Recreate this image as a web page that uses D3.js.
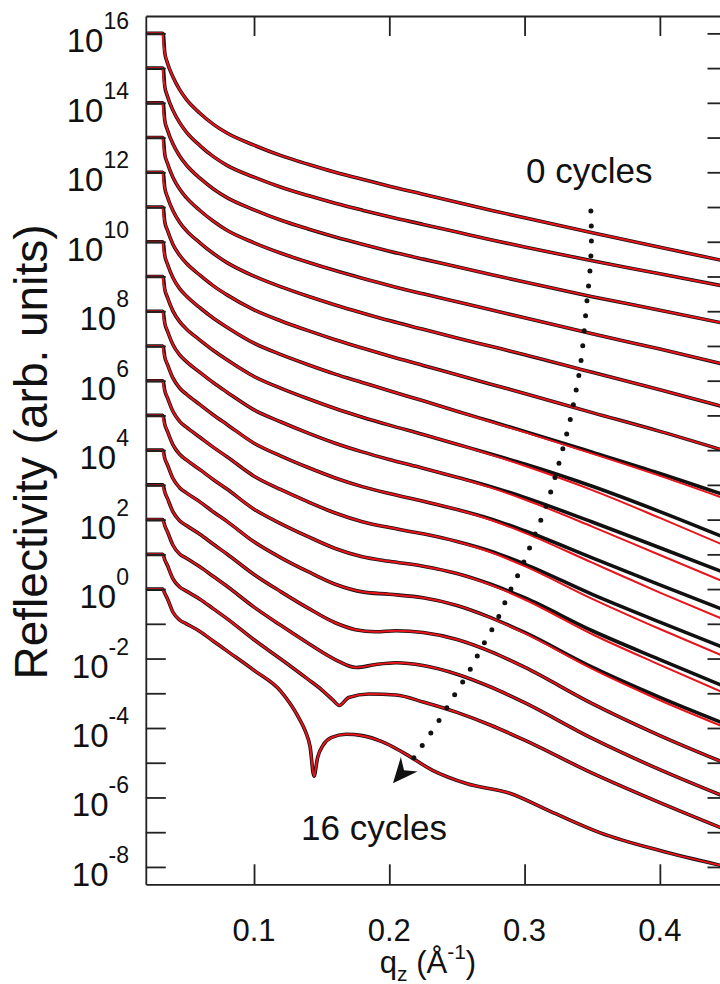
<!DOCTYPE html>
<html><head><meta charset="utf-8">
<script src="https://cdn.jsdelivr.net/npm/d3@7"></script>
<style>
body{margin:0;background:#fff;}
svg{display:block;font-family:"Liberation Sans",Arial,Helvetica,sans-serif;}
</style>
</head><body>
<svg id="chart" width="720" height="984"></svg>
<script>
// ---------------- data ----------------
const cycles = [0,1,2,3,4,5,6,7,8,9,10,11,12,13,14,15,16];
// vertical offset (decades) of each curve for clarity
const offsets = [16,15,14,13,12,11,10,9,8,7,6,5,4,3,2,1,0];
const xTicks = [0.1,0.2,0.3,0.4];
const yDecades = [-8,-7,-6,-5,-4,-3,-2,-1,0,1,2,3,4,5,6,7,8,9,10,11,12,13,14,15,16];
const yLabelled = [-8,-6,-4,-2,0,2,4,6,8,10,12,14,16];

// common q grid (1/Å) of the fits for curves 0..12
const qGrid = [0.020,0.0325,0.033,0.034,0.036,0.040,0.045,0.050,0.060,0.070,0.080,0.100,0.120,0.140,0.160,0.180,0.200,0.225,0.250,0.275,0.300,0.350,0.400,0.450];
// log10 R of the fits (before offset)
const fit0  = [0,0,-0.30,-0.55,-0.85,-1.25,-1.62,-1.90,-2.30,-2.62,-2.87,-3.22,-3.52,-3.77,-4.00,-4.20,-4.40,-4.63,-4.86,-5.09,-5.31,-5.74,-6.16,-6.57];
const fit1  = [0,0,-0.28,-0.52,-0.81,-1.21,-1.57,-1.84,-2.23,-2.55,-2.80,-3.14,-3.43,-3.67,-3.89,-4.09,-4.28,-4.50,-4.72,-4.94,-5.15,-5.55,-5.92,-6.30];
const fit2  = [0,0,-0.27,-0.50,-0.78,-1.18,-1.53,-1.79,-2.17,-2.48,-2.73,-3.08,-3.38,-3.63,-3.86,-4.07,-4.27,-4.50,-4.72,-4.94,-5.16,-5.58,-5.97,-6.37];
const fit3  = [0,0,-0.25,-0.47,-0.74,-1.14,-1.48,-1.73,-2.10,-2.41,-2.67,-3.03,-3.33,-3.59,-3.83,-4.05,-4.26,-4.50,-4.73,-4.96,-5.19,-5.65,-6.09,-6.55];
const fit4  = [0,0,-0.24,-0.44,-0.71,-1.10,-1.44,-1.68,-2.03,-2.34,-2.60,-2.99,-3.30,-3.57,-3.82,-4.05,-4.27,-4.52,-4.77,-5.01,-5.25,-5.76,-6.26,-6.78];
const fit5  = [0,0,-0.22,-0.42,-0.67,-1.07,-1.39,-1.62,-1.96,-2.27,-2.53,-2.96,-3.28,-3.56,-3.82,-4.06,-4.29,-4.56,-4.83,-5.10,-5.37,-5.92,-6.46,-7.04];
const fit6  = [0,0,-0.21,-0.39,-0.64,-1.03,-1.35,-1.56,-1.90,-2.20,-2.46,-2.92,-3.25,-3.54,-3.81,-4.05,-4.29,-4.58,-4.88,-5.18,-5.48,-6.10,-6.74,-7.42];
const fit7  = [0,0,-0.19,-0.36,-0.60,-0.99,-1.30,-1.51,-1.83,-2.13,-2.40,-2.88,-3.22,-3.52,-3.80,-4.05,-4.28,-4.55,-4.83,-5.13,-5.45,-6.15,-6.95,-7.78];
const fit8  = [0,0,-0.18,-0.34,-0.57,-0.96,-1.26,-1.45,-1.76,-2.06,-2.33,-2.84,-3.19,-3.51,-3.80,-4.05,-4.27,-4.52,-4.78,-5.08,-5.42,-6.20,-7.02,-7.83];
const fit9  = [0,0,-0.16,-0.31,-0.53,-0.92,-1.21,-1.39,-1.69,-1.99,-2.26,-2.80,-3.17,-3.50,-3.80,-4.05,-4.25,-4.47,-4.71,-5.01,-5.38,-6.24,-7.10,-7.92];
const fit10 = [0,0,-0.14,-0.28,-0.49,-0.88,-1.17,-1.34,-1.63,-1.92,-2.19,-2.75,-3.14,-3.49,-3.81,-4.06,-4.23,-4.41,-4.63,-4.94,-5.34,-6.28,-7.15,-7.98];
const fit11 = [0,0,-0.13,-0.25,-0.46,-0.84,-1.12,-1.28,-1.56,-1.85,-2.12,-2.70,-3.12,-3.49,-3.83,-4.07,-4.20,-4.34,-4.55,-4.88,-5.30,-6.30,-7.18,-8.03];
const fit12 = [0,0,-0.11,-0.23,-0.42,-0.81,-1.08,-1.23,-1.49,-1.78,-2.05,-2.64,-3.10,-3.50,-3.86,-4.08,-4.15,-4.25,-4.47,-4.83,-5.27,-6.30,-7.20,-8.01];
// measured data: level just past the edge (q = 0.033) for every curve
const measEdge = [-0.04,-0.04,-0.04,-0.04,-0.04,-0.04,-0.04,-0.04,-0.04,-0.04,-0.04,-0.04,-0.04,-0.03,-0.03,-0.03,-0.03];
// measured data excess over the fit at the last six grid points (0.25 … 0.45)
const excess6  = [0,0.01,0.02,0.04,0.07,0.10];
const excess7  = [0,0.02,0.05,0.11,0.18,0.23];
const excess8  = [0,0.03,0.06,0.13,0.21,0.27];
const excess9  = [0,0.03,0.06,0.14,0.22,0.28];
const excess10 = [0,0.03,0.06,0.13,0.20,0.25];
const excess11 = [0,0.02,0.05,0.10,0.15,0.19];
const excess12 = [0,0.01,0.02,0.05,0.08,0.10];
// curves with a Kiessig minimum have their own q points
const qFit13 = [0.020,0.0325,0.033,0.034,0.036,0.040,0.045,0.050,0.060,0.070,0.080,0.100,0.120,0.140,0.160,0.175,0.190,0.205,0.225,0.250,0.275,0.300,0.350,0.400,0.450];
const fit13  = [0,0,-0.10,-0.20,-0.39,-0.77,-1.03,-1.17,-1.42,-1.71,-1.99,-2.58,-3.08,-3.55,-3.97,-4.17,-4.23,-4.20,-4.25,-4.45,-4.80,-5.25,-6.30,-7.22,-8.04];
const qFit14 = [0.020,0.0325,0.033,0.034,0.036,0.040,0.045,0.050,0.060,0.070,0.080,0.100,0.120,0.140,0.160,0.1755,0.190,0.205,0.225,0.250,0.275,0.300,0.350,0.400,0.450];
const fit14  = [0,0,-0.08,-0.17,-0.35,-0.73,-0.99,-1.11,-1.36,-1.64,-1.92,-2.52,-3.05,-3.56,-4.03,-4.26,-4.17,-4.12,-4.20,-4.45,-4.82,-5.27,-6.30,-7.20,-8.01];
const qFit15 = [0.020,0.0325,0.033,0.034,0.036,0.040,0.045,0.050,0.060,0.070,0.080,0.100,0.120,0.140,0.150,0.158,0.163,0.170,0.185,0.205,0.225,0.250,0.275,0.300,0.350,0.400,0.450];
const fit15  = [0,0,-0.07,-0.15,-0.32,-0.70,-0.94,-1.06,-1.29,-1.57,-1.85,-2.46,-3.02,-3.60,-3.90,-4.18,-4.35,-4.12,-4.02,-4.05,-4.25,-4.55,-4.92,-5.35,-6.30,-7.15,-7.95];
const qFit16 = [0.020,0.0325,0.033,0.034,0.036,0.040,0.045,0.050,0.060,0.070,0.080,0.100,0.120,0.133,0.138,0.1415,0.1443,0.147,0.151,0.157,0.168,0.180,0.195,0.210,0.232,0.257,0.289,0.319,0.356,0.400,0.450];
const fit16  = [0,0,-0.05,-0.12,-0.28,-0.66,-0.89,-1.00,-1.22,-1.50,-1.78,-2.34,-2.95,-3.70,-4.10,-4.55,-5.39,-4.85,-4.50,-4.28,-4.18,-4.22,-4.40,-4.70,-5.22,-5.60,-5.88,-6.40,-7.02,-7.53,-8.00];

// annotation: dotted arrow path (q, log10 of plotted value)
const arrowQ = [0.3490,0.3494,0.3483,0.3461,0.3417,0.3380,0.3335,0.3276,0.3217,0.3151,0.3069,0.2981,0.2885,0.2796,0.2685,0.2582,0.2463,0.2345,0.2219,0.2160];
const arrowLog = [10.885,10.021,9.157,8.293,6.565,5.700,4.836,3.944,3.108,2.302,1.495,0.660,-0.118,-0.895,-1.673,-2.422,-3.171,-3.920,-4.640,-4.985];
const arrowTip = [0.2027,-5.59];

// ---------------- setup ----------------
const svg = d3.select("#chart");
const x = d3.scaleLinear().domain([0.02,0.45]).range([145.8,727.5]);
const y = d3.scaleLog().domain([Math.pow(10,-8.5),Math.pow(10,16.5)]).range([884.3,16]);

svg.append("clipPath").attr("id","clip").append("rect")
  .attr("x",x(0.02)).attr("y",y(Math.pow(10,16.5)))
  .attr("width",x(0.45)-x(0.02)).attr("height",y(Math.pow(10,-8.5))-y(Math.pow(10,16.5)));

const fitsGrid = [fit0,fit1,fit2,fit3,fit4,fit5,fit6,fit7,fit8,fit9,fit10,fit11,fit12];
const excessByCurve = {6:excess6,7:excess7,8:excess8,9:excess9,10:excess10,11:excess11,12:excess12};
const special = {13:[qFit13,fit13],14:[qFit14,fit14],15:[qFit15,fit15],16:[qFit16,fit16]};

const fitSeries = cycles.map((c,i)=>{
  const [qs,ls] = i<=12 ? [qGrid,fitsGrid[i]] : special[i];
  return qs.map((q,k)=>({q:q, l:ls[k]+offsets[i]}));
});
const measSeries = fitSeries.map((s,i)=>{
  const ex = excessByCurve[i] || [];
  const n0 = s.length-ex.length;
  return s.map((d,k)=>{
    let l = d.l;
    if(d.q===0.033) l = measEdge[i]+offsets[i];
    if(k>=n0) l += ex[k-n0];
    return {q:d.q, l:l};
  });
});
const line = d3.line().x(d=>x(d.q)).y(d=>y(Math.pow(10,d.l))).curve(d3.curveMonotoneX);

const plot = svg.append("g").attr("clip-path","url(#clip)");
plot.selectAll("path.data").data(measSeries).join("path").attr("class","data")
  .attr("d",line).attr("fill","none").attr("stroke","#111").attr("stroke-width",3.6)
  .attr("stroke-linejoin","round");
plot.selectAll("path.fit").data(fitSeries).join("path").attr("class","fit")
  .attr("d",line).attr("fill","none").attr("stroke","#e8141c").attr("stroke-width",2);

// ---------------- axes ----------------
const axCol = "#222";
function styleAxis(g){
  g.selectAll("path.domain").attr("stroke",axCol).attr("stroke-width",1.8);
  g.selectAll(".tick line").attr("stroke",axCol).attr("stroke-width",1.8);
  g.selectAll(".tick text").remove();
}
const yTickVals = yDecades.map(e=>Math.pow(10,e));
svg.append("g").attr("transform",`translate(${x(0.02)},0)`)
  .call(d3.axisLeft(y).tickValues(yTickVals).tickSizeInner(-20).tickSizeOuter(0).tickFormat(""))
  .call(styleAxis);
svg.append("g").attr("transform",`translate(${x(0.45)},0)`)
  .call(d3.axisRight(y).tickValues(yTickVals).tickSizeInner(-20).tickSizeOuter(0).tickFormat(""))
  .call(styleAxis);
svg.append("g").attr("transform",`translate(0,${y(Math.pow(10,-8.5))})`)
  .call(d3.axisBottom(x).tickValues(xTicks).tickSizeInner(-20).tickSizeOuter(0).tickFormat(""))
  .call(styleAxis);
svg.append("g").attr("transform",`translate(0,${y(Math.pow(10,16.5))})`)
  .call(d3.axisTop(x).tickValues(xTicks).tickSizeInner(-20).tickSizeOuter(0).tickFormat(""))
  .call(styleAxis);

// y tick labels 10^n
const yl = svg.append("g").attr("fill","#111");
yLabelled.forEach(e=>{
  const t = yl.append("text").attr("x",129).attr("y",y(Math.pow(10,e))+19).attr("text-anchor","end");
  t.append("tspan").attr("font-size",33).text("10");
  t.append("tspan").attr("font-size",23).attr("dy",-23).text(e<0?"-"+Math.abs(e):String(e));
});
// x tick labels
svg.append("g").selectAll("text").data(xTicks).join("text")
  .attr("x",d=>x(d)).attr("y",941).attr("text-anchor","middle")
  .attr("font-size",31).attr("fill","#111").text(d=>d.toFixed(1));

// axis titles
const xt = svg.append("text").attr("x",428).attr("y",973).attr("text-anchor","middle").attr("fill","#111").attr("font-size",31);
xt.append("tspan").text("q");
xt.append("tspan").attr("font-size",21).attr("dy",8).text("z");
xt.append("tspan").attr("dy",-8).text(" (Å");
xt.append("tspan").attr("font-size",21).attr("dy",-14).text("-1");
xt.append("tspan").attr("dy",14).text(")");

svg.append("text").attr("transform","translate(47,452) rotate(-90)")
  .attr("text-anchor","middle").attr("fill","#111").attr("font-size",46)
  .text("Reflectivity (arb. units)");

// annotations
const arrowPts = arrowQ.map((q,k)=>[x(q), y(Math.pow(10,arrowLog[k]))]);
svg.append("path").attr("d",d3.line().curve(d3.curveCatmullRom)(arrowPts))
  .attr("fill","none").attr("stroke","#111").attr("stroke-width",5)
  .attr("stroke-linecap","round").attr("stroke-dasharray","0 15");
const tip = [x(arrowTip[0]), y(Math.pow(10,arrowTip[1]))];
const last = arrowPts[arrowPts.length-1];
const ang = Math.atan2(tip[1]-last[1], tip[0]-last[0]);
const L=25, Wd=11, notch=8;
const bx = tip[0]-L*Math.cos(ang), by = tip[1]-L*Math.sin(ang);
const nx = tip[0]-(L-notch)*Math.cos(ang), ny = tip[1]-(L-notch)*Math.sin(ang);
const px = -Math.sin(ang), py = Math.cos(ang);
svg.append("path").attr("d",`M${tip[0]},${tip[1]}L${bx+px*Wd},${by+py*Wd}L${nx},${ny}L${bx-px*Wd},${by-py*Wd}Z`).attr("fill","#111");

svg.append("text").attr("x",526).attr("y",183).attr("font-size",35).attr("fill","#111").text("0 cycles");
svg.append("text").attr("x",301).attr("y",840).attr("font-size",35).attr("fill","#111").text("16 cycles");
</script>
</body></html>
